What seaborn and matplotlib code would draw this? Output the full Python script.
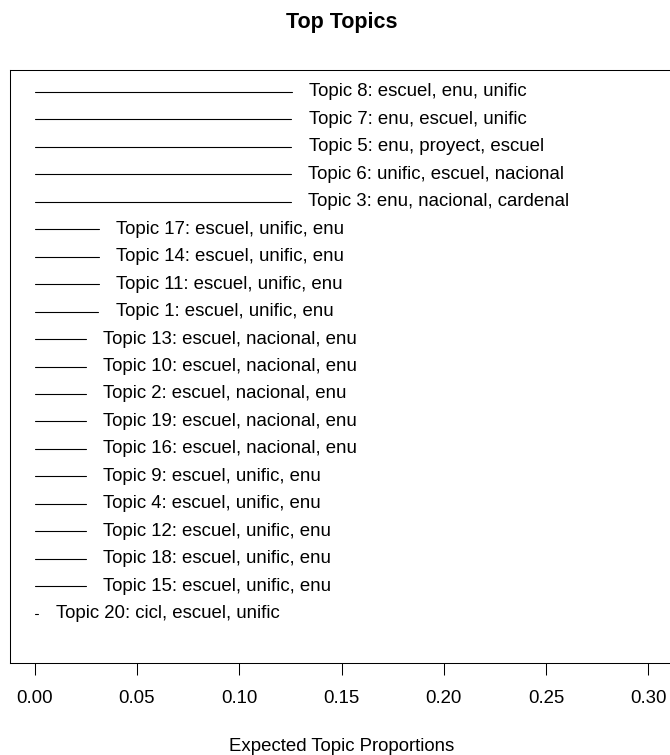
import matplotlib
matplotlib.use("Agg")
import matplotlib.pyplot as plt
import seaborn as sns
import pandas as pd

# Topics in display order (top to bottom)
topic_ids = [8, 7, 5, 6, 3, 17, 14, 11, 1, 13, 10, 2, 19, 16, 9, 4, 12, 18, 15, 20]
top_words = [
    "escuel, enu, unific",
    "enu, escuel, unific",
    "enu, proyect, escuel",
    "unific, escuel, nacional",
    "enu, nacional, cardenal",
    "escuel, unific, enu",
    "escuel, unific, enu",
    "escuel, unific, enu",
    "escuel, unific, enu",
    "escuel, nacional, enu",
    "escuel, nacional, enu",
    "escuel, nacional, enu",
    "escuel, nacional, enu",
    "escuel, nacional, enu",
    "escuel, unific, enu",
    "escuel, unific, enu",
    "escuel, unific, enu",
    "escuel, unific, enu",
    "escuel, unific, enu",
    "cicl, escuel, unific",
]
proportions = [0.1256, 0.1255, 0.1254, 0.1253, 0.1252,
               0.0314, 0.0313, 0.0313, 0.0312,
               0.0251, 0.0251, 0.0250, 0.0250, 0.0250,
               0.0250, 0.0249, 0.0249, 0.0249, 0.0249,
               0.0019]
x_ticks = [0.00, 0.05, 0.10, 0.15, 0.20, 0.25, 0.30]

sns.set_theme(style="white")
plt.rcParams["font.family"] = ["Liberation Sans", "DejaVu Sans"]

n = len(topic_ids)
rows = list(range(n, 0, -1))  # top topic on the highest row

# two points per topic: from 0 to its expected proportion
seg = pd.DataFrame({
    "topic": [t for t in topic_ids for _ in range(2)],
    "row": [r for r in rows for _ in range(2)],
    "prop": [v for p in proportions for v in (0.0, p)],
})

fig = plt.figure(figsize=(6.7, 7.55), dpi=100)
ax = fig.add_axes([10 / 670, 92 / 755, 663 / 670, 593 / 755])

sns.lineplot(data=seg, x="prop", y="row", units="topic", estimator=None,
             color="black", linewidth=0.8, ax=ax, legend=False)

for tid, words, p, r in zip(topic_ids, top_words, proportions, rows):
    ax.text(p + 0.0085, r, f"Topic {tid}: {words}", ha="left", va="center",
            fontsize=13.4, color="black")

xmax = 0.30
ax.set_xlim(-0.04 * xmax, 1.04 * xmax)
ax.set_ylim(-0.8, 20.8)
ax.set_xticks(x_ticks)
ax.set_xticklabels([f"{t:.2f}" for t in x_ticks])
ax.set_yticks([])
ax.tick_params(axis="x", direction="out", length=8.6, width=0.75, color="black",
               pad=11, labelsize=13.4, labelcolor="black", bottom=True)
for s in ax.spines.values():
    s.set_color("black")
    s.set_linewidth(0.75)
    s.set_visible(True)

ax.set_xlabel("Expected Topic Proportions", fontsize=13.4, color="black", labelpad=22)
ax.set_ylabel("")
ax.set_title("Top Topics", fontsize=15.5, fontweight="bold", color="black", pad=30)

fig.savefig("out.png", dpi=100)
